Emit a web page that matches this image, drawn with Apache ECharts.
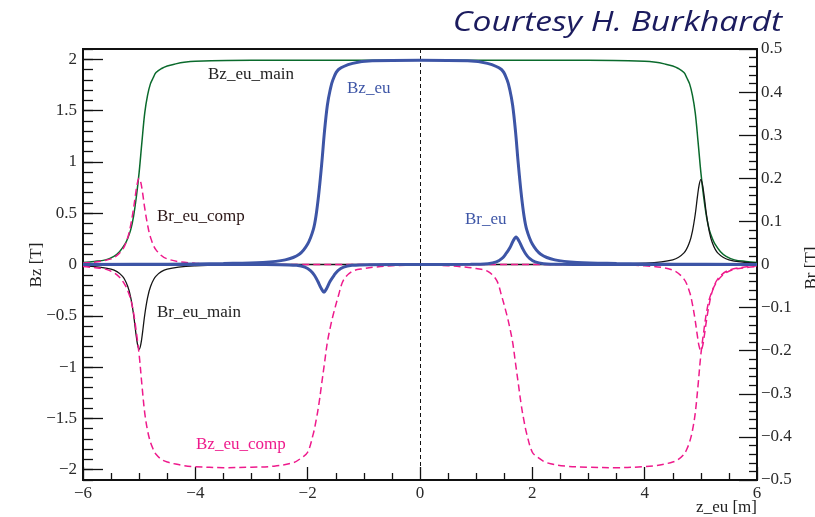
<!DOCTYPE html>
<html>
<head>
<meta charset="utf-8">
<script src="https://cdn.jsdelivr.net/npm/echarts@6/dist/echarts.min.js"></script>
<style>
  html, body { margin: 0; padding: 0; background: #fff; }
  #c { width: 815px; height: 517px; }
</style>
</head>
<body>
<div id="c"></div>
<script>
// ---------- data ----------
// Bz_eu_main (left axis, T)
const bzMainZ = [-6,-5.8,-5.6,-5.45,-5.35,-5.25,-5.2,-5.15,-5.1,-5.05,-5,-4.95,-4.9,-4.85,-4.8,-4.75,-4.7,-4.6,-4.5,-4.35,-4.2,-4,-3,0,3,4,4.2,4.35,4.5,4.6,4.7,4.75,4.8,4.85,4.9,4.95,5,5.05,5.1,5.15,5.2,5.25,5.35,5.45,5.6,5.8,6];
const bzMainV = [0.02,0.03,0.045,0.08,0.125,0.2,0.26,0.34,0.47,0.66,0.9,1.2,1.48,1.65,1.76,1.82,1.87,1.91,1.935,1.955,1.97,1.98,1.99,1.99,1.99,1.98,1.97,1.955,1.935,1.91,1.87,1.82,1.76,1.65,1.48,1.2,0.9,0.66,0.47,0.34,0.26,0.2,0.125,0.08,0.045,0.03,0.02];

// Bz_eu_comp (left axis, T)
const bzCompZ = [-6,-5.8,-5.6,-5.45,-5.35,-5.25,-5.2,-5.15,-5.1,-5.05,-5,-4.95,-4.9,-4.85,-4.8,-4.75,-4.7,-4.6,-4.5,-4.35,-4.2,-4,-3.5,-3,-2.6,-2.25,-2.1,-2,-1.9,-1.85,-1.8,-1.75,-1.7,-1.65,-1.6,-1.55,-1.45,-1.36,-1.2,-1,-0.8,-0.5,
  0,
  0.5,0.8,1,1.2,1.36,1.45,1.55,1.6,1.65,1.7,1.75,1.8,1.85,1.9,2,2.1,2.25,2.6,3,3.5,4,4.2,4.35,4.5,4.6,4.7,4.75,4.8,4.85,4.9,4.95,5,5.05,5.1,5.15,5.2,5.25,5.35,5.45,5.6,5.8,6];
const bzCompV = [-0.02,-0.03,-0.045,-0.08,-0.125,-0.2,-0.26,-0.34,-0.47,-0.66,-0.88,-1.18,-1.45,-1.62,-1.73,-1.8,-1.85,-1.9,-1.925,-1.945,-1.96,-1.97,-1.98,-1.975,-1.965,-1.93,-1.88,-1.83,-1.65,-1.52,-1.36,-1.16,-0.96,-0.76,-0.62,-0.5,-0.3,-0.15,-0.065,-0.04,-0.025,-0.012,
  -0.005,
  -0.012,-0.025,-0.04,-0.065,-0.15,-0.3,-0.5,-0.62,-0.76,-0.96,-1.16,-1.36,-1.52,-1.65,-1.83,-1.88,-1.93,-1.965,-1.975,-1.98,-1.97,-1.96,-1.945,-1.925,-1.9,-1.85,-1.8,-1.73,-1.62,-1.45,-1.18,-0.88,-0.66,-0.47,-0.34,-0.26,-0.2,-0.125,-0.08,-0.045,-0.03,-0.02];

// Bz_eu (left axis, T)
const bzEuZ = [-6,-4.5,-3.5,-2.8,-2.4,-2.15,-2,-1.9,-1.85,-1.8,-1.75,-1.7,-1.65,-1.6,-1.55,-1.45,-1.2,-0.85,0,0.85,1.2,1.45,1.55,1.6,1.65,1.7,1.75,1.8,1.85,1.9,2,2.15,2.4,2.8,3.5,4.5,6];
const bzEuV = [0,0.003,0.01,0.02,0.045,0.1,0.2,0.34,0.48,0.7,0.98,1.3,1.55,1.7,1.8,1.9,1.96,1.985,1.99,1.985,1.96,1.9,1.8,1.7,1.55,1.3,0.98,0.7,0.48,0.34,0.2,0.1,0.045,0.02,0.01,0.003,0];

// Br_eu (right axis, T)
const brEuZ = [-6,-3,-2.5,-2.2,-2.05,-1.95,-1.88,-1.82,-1.76,-1.71,-1.66,-1.6,-1.53,-1.46,-1.36,-1.21,-0.9,0,0.9,1.21,1.36,1.46,1.53,1.6,1.66,1.71,1.76,1.82,1.88,1.95,2.05,2.2,2.5,3,6];
const brEuV = [0,0,-0.0003,-0.002,-0.006,-0.014,-0.025,-0.039,-0.055,-0.064,-0.055,-0.039,-0.025,-0.014,-0.006,-0.002,-0.0003,0,0.0003,0.002,0.006,0.014,0.025,0.039,0.055,0.064,0.055,0.039,0.025,0.014,0.006,0.002,0.0003,0,0];

// Br_eu_main / Br_eu_comp (right axis, T), sampled on the same z points
const brEdgeZ = [-6,-5.5,-5.3,-5.2,-5.15,-5.1,-5.06,-5.03,-5,-4.97,-4.94,-4.9,-4.85,-4.8,-4.7,-4.5,-4,-3,3,4,4.5,4.7,4.8,4.85,4.9,4.94,4.97,5,5.03,5.06,5.1,5.15,5.2,5.3,5.5,6];
const brMainV = [-0.003,-0.011,-0.027,-0.052,-0.077,-0.116,-0.158,-0.185,-0.197,-0.185,-0.158,-0.116,-0.077,-0.052,-0.027,-0.011,-0.003,0,0,0.003,0.011,0.027,0.052,0.077,0.116,0.158,0.185,0.197,0.185,0.158,0.116,0.077,0.052,0.027,0.011,0.003];
const brCompV = [0.003,0.013,0.034,0.064,0.092,0.13,0.167,0.19,0.2,0.19,0.167,0.13,0.092,0.064,0.034,0.013,0.003,0,0,-0.003,-0.013,-0.034,-0.064,-0.092,-0.13,-0.167,-0.19,-0.2,-0.19,-0.167,-0.13,-0.092,-0.064,-0.034,-0.013,-0.003];

// tick labels
const xTicks = [-6, -4, -2, 0, 2, 4, 6];
const bzTicks = [-2, -1.5, -1, -0.5, 0, 0.5, 1, 1.5, 2];

// ---------- chart ----------
const SERIF = "'Liberation Serif', 'DejaVu Serif', serif";
const GREEN = "#0a6a2c", BLUE = "#3d55a6", PINK = "#ee1a8c", BLACK = "#151515";

const zip = (zs, vs) => zs.map((z, i) => [z, vs[i]]);
const fmt = (v) => {
  const r = Math.round(v * 100) / 100;
  return (r < 0 ? "\u2212" : "") + String(Math.abs(r));
};

function line(name, zs, vs, color, width, yIdx, dashed, z2) {
  return {
    name, type: "line", yAxisIndex: yIdx, data: zip(zs, vs),
    showSymbol: false, smooth: 0.35, z: z2, animation: false,
    lineStyle: { color, width, type: dashed ? [7, 4] : "solid" }
  };
}

function lbl(color) {
  return { fontFamily: SERIF, fontSize: 17, fill: color || "#222" };
}

const chart = echarts.init(document.getElementById("c"), null, { renderer: "canvas" });

const series = [
  line("Bz_eu_main", bzMainZ, bzMainV, GREEN, 1.5, 0, false, 2),
  line("Br_eu_main", brEdgeZ, brMainV, BLACK, 1.3, 1, false, 3),
  line("Bz_eu_comp", bzCompZ, bzCompV, PINK, 1.5, 0, true, 4),
  line("Br_eu_comp", brEdgeZ, brCompV, PINK, 1.5, 1, true, 4),
  line("Bz_eu", bzEuZ, bzEuV, BLUE, 3, 0, false, 6),
  line("Br_eu", brEuZ, brEuV, BLUE, 3, 1, false, 6)
];
// dashed marker at z = 0
series[0].markLine = {
  silent: true, symbol: "none", animation: false,
  label: { show: false },
  lineStyle: { color: "#111", width: 1, type: [4, 3] },
  data: [{ xAxis: 0 }]
};

const labelStyle = { fontFamily: SERIF, fontSize: 17, color: "#2a2a2a" };
const tickLine = { color: "#111", width: 1.3 };

chart.setOption({
  backgroundColor: "#fff",
  animation: false,
  grid: {
    left: 83, right: 58, top: 49, bottom: 37,
    show: true, borderColor: "#111", borderWidth: 2, backgroundColor: "transparent"
  },
  xAxis: {
    type: "value", min: -6, max: 6, interval: 2,
    axisLine: { show: false, onZero: false },
    axisTick: { inside: true, length: 13, lineStyle: tickLine },
    minorTick: { show: true, splitNumber: 4, length: 7, lineStyle: tickLine },
    axisLabel: { ...labelStyle, margin: 5, formatter: fmt, showMinLabel: true, showMaxLabel: true },
    splitLine: { show: false }
  },
  yAxis: [
    {
      type: "value", min: -2.1, max: 2.1, position: "left",
      axisLine: { show: false, onZero: false },
      axisTick: { inside: true, length: 20, customValues: bzTicks, lineStyle: tickLine },
      axisLabel: { ...labelStyle, margin: 6, customValues: bzTicks, formatter: fmt },
      splitLine: { show: false }
    },
    {
      type: "value", min: -0.5, max: 0.5, interval: 0.1, position: "right",
      axisLine: { show: false, onZero: false },
      axisTick: { inside: true, length: 18, lineStyle: tickLine },
      minorTick: { show: true, splitNumber: 5, length: 8, lineStyle: tickLine },
      axisLabel: { ...labelStyle, margin: 4, formatter: fmt, showMinLabel: true, showMaxLabel: true },
      splitLine: { show: false }
    },
    {
      // minor ticks of the Bz axis (every 0.1 T)
      type: "value", min: -2.1, max: 2.1, interval: 0.1, position: "left",
      axisLine: { show: false, onZero: false },
      axisTick: { inside: true, length: 10, lineStyle: tickLine },
      axisLabel: { show: false },
      splitLine: { show: false }
    }
  ],
  series,
  graphic: [
    { type: "text", x: 782, y: 23, scaleX: 1.2, style: { text: "Courtesy H. Burkhardt", fontFamily: "'Open Sans', sans-serif", fontStyle: "italic", fontSize: 28, fill: "#1b1b5e", align: "right", verticalAlign: "middle" } },
    { type: "text", x: 37, y: 265, rotation: Math.PI / 2, style: { text: "Bz [T]", ...lbl(), align: "center", verticalAlign: "middle" } },
    { type: "text", x: 812, y: 268, rotation: Math.PI / 2, style: { text: "Br [T]", ...lbl(), align: "center", verticalAlign: "middle" } },
    { type: "text", x: 757, y: 508, style: { text: "z_eu [m]", ...lbl(), align: "right", verticalAlign: "middle" } },
    { type: "text", x: 208, y: 75, style: { text: "Bz_eu_main", ...lbl(), verticalAlign: "middle" } },
    { type: "text", x: 347, y: 89, style: { text: "Bz_eu", ...lbl(BLUE), verticalAlign: "middle" } },
    { type: "text", x: 157, y: 217, style: { text: "Br_eu_comp", ...lbl("#2a1515"), verticalAlign: "middle" } },
    { type: "text", x: 465, y: 220, style: { text: "Br_eu", ...lbl(BLUE), verticalAlign: "middle" } },
    { type: "text", x: 157, y: 313, style: { text: "Br_eu_main", ...lbl(), verticalAlign: "middle" } },
    { type: "text", x: 196, y: 445, style: { text: "Bz_eu_comp", ...lbl(PINK), verticalAlign: "middle" } }
  ]
});
</script>
</body>
</html>
